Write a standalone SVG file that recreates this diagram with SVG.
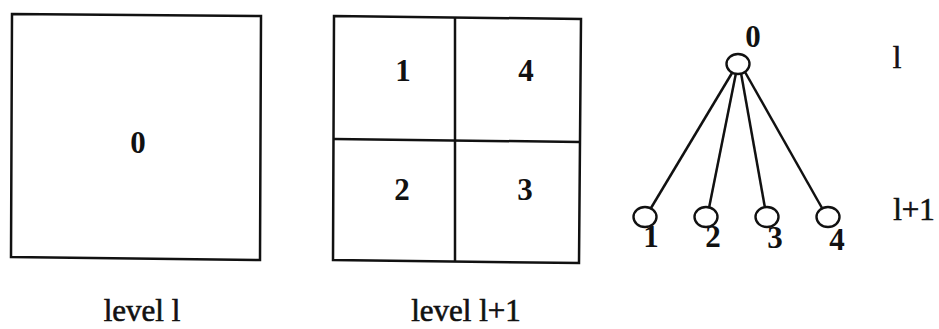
<svg xmlns="http://www.w3.org/2000/svg" width="939" height="329" viewBox="0 0 939 329">
<style>
.s{fill:none;stroke:#111;stroke-width:2.5;stroke-linejoin:miter}
.n{fill:#fff;stroke:#111;stroke-width:2.4}
.t{font-family:"Liberation Serif","DejaVu Serif",serif;font-size:31px;fill:#111;text-anchor:middle;font-weight:bold}
.tl{font-family:"Liberation Serif","DejaVu Serif",serif;font-size:31px;fill:#111;stroke:#111;stroke-width:0.6;text-anchor:middle}
</style>
<rect width="939" height="329" fill="#fff"/>
<g id="level-l">
<polygon class="s" points="12,14 261,16 260,260 11,257"/>
<text class="t" x="138" y="153">0</text>
<text class="tl" x="142" y="321">level l</text>
</g>
<g id="level-l1">
<polygon class="s" points="334,16 581,19 579,263 333,260"/>
<line class="s" x1="455" y1="17" x2="455" y2="261"/>
<line class="s" x1="334" y1="139" x2="580" y2="142"/>
<text class="t" x="403" y="81">1</text>
<text class="t" x="526" y="81">4</text>
<text class="t" x="402" y="200">2</text>
<text class="t" x="525" y="200">3</text>
<text class="tl" x="466" y="321">level l+1</text>
</g>
<g id="connectors">
<line class="s" x1="732" y1="73" x2="651" y2="208"/>
<line class="s" x1="736" y1="73" x2="709" y2="208"/>
<line class="s" x1="741" y1="73" x2="765" y2="208"/>
<line class="s" x1="745" y1="72" x2="822" y2="208"/>
</g>
<g id="node-0">
<ellipse class="n" cx="738" cy="64" rx="11.5" ry="10"/>
<text class="t" x="753" y="47">0</text>
</g>
<g id="node-1">
<ellipse class="n" cx="645" cy="217" rx="11.5" ry="10"/>
<text class="t" x="651" y="247">1</text>
</g>
<g id="node-2">
<ellipse class="n" cx="706" cy="217" rx="11.5" ry="10"/>
<text class="t" x="713" y="247">2</text>
</g>
<g id="node-3">
<ellipse class="n" cx="767" cy="217" rx="11.5" ry="10"/>
<text class="t" x="775" y="248">3</text>
</g>
<g id="node-4">
<ellipse class="n" cx="828" cy="217" rx="11.5" ry="10"/>
<text class="t" x="837" y="250">4</text>
</g>
<g id="levels">
<text class="tl" x="897" y="68">l</text>
<text class="tl" x="914" y="220">l+1</text>
</g>
</svg>
